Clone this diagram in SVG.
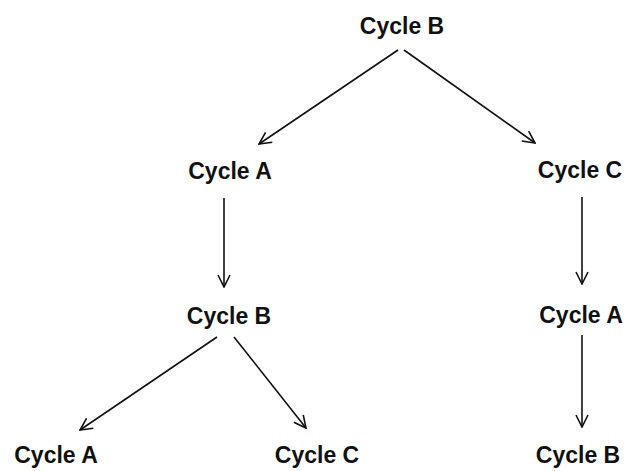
<svg xmlns="http://www.w3.org/2000/svg" width="626" height="471" viewBox="0 0 626 471">
<defs>
<marker id="arr" viewBox="0 0 14 14" refX="13" refY="7" markerWidth="14" markerHeight="14" markerUnits="userSpaceOnUse" orient="auto">
<path d="M1,1 L13,7 L1,13" fill="none" stroke="#111" stroke-width="1.6"/>
</marker>
<style>
text{font-family:"Liberation Sans",Arial,sans-serif;font-weight:bold;font-size:23px;fill:#111;text-anchor:middle}
.c line{stroke:#111;stroke-width:1.6;marker-end:url(#arr)}
</style>
</defs>
<rect width="626" height="471" fill="#fff"/>
<g class="c" id="connectors">
<line x1="398" y1="50" x2="259" y2="144"/>
<line x1="404" y1="50" x2="535" y2="143"/>
<line x1="224" y1="198" x2="224" y2="287"/>
<line x1="582" y1="197" x2="582" y2="284"/>
<line x1="217" y1="337" x2="80" y2="430"/>
<line x1="234" y1="337" x2="306" y2="428"/>
<line x1="582" y1="335" x2="582" y2="427"/>
</g>
<g id="n1"><text x="402" y="34">Cycle B</text></g>
<g id="n2"><text x="230" y="179">Cycle A</text></g>
<g id="n3"><text x="580" y="178">Cycle C</text></g>
<g id="n4"><text x="229" y="324">Cycle B</text></g>
<g id="n5"><text x="581" y="323">Cycle A</text></g>
<g id="n6"><text x="56" y="463">Cycle A</text></g>
<g id="n7"><text x="317" y="463">Cycle C</text></g>
<g id="n8"><text x="578" y="463">Cycle B</text></g>
</svg>
